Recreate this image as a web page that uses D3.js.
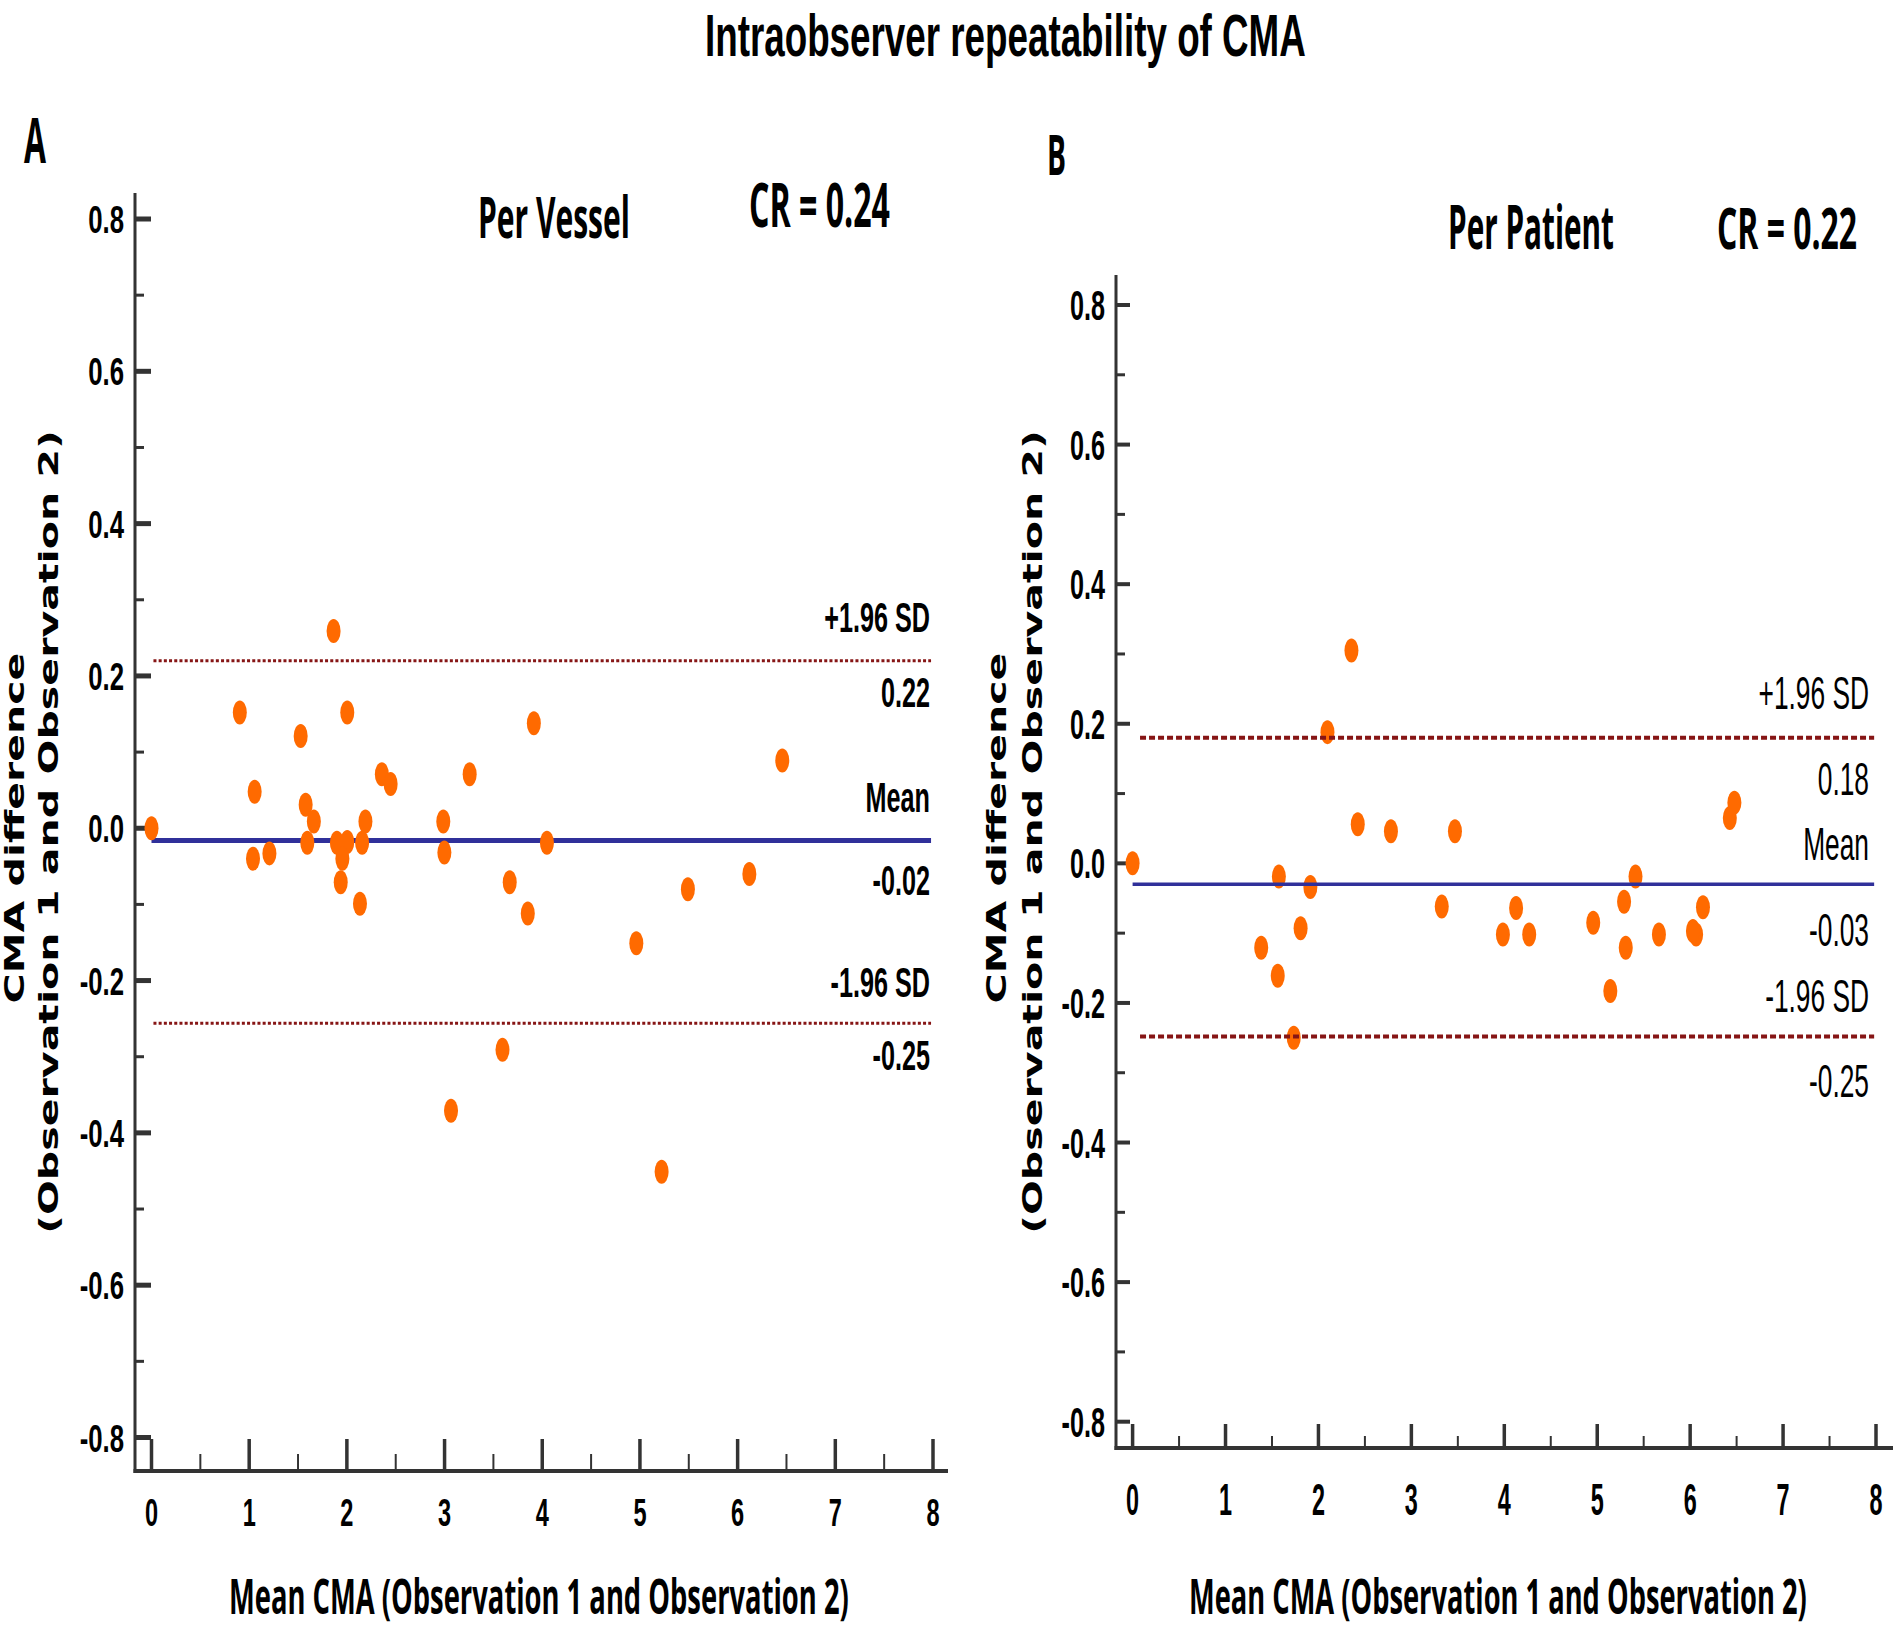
<!DOCTYPE html>
<html><head><meta charset="utf-8">
<script src="https://cdn.jsdelivr.net/npm/d3@7"></script>
<style>html,body{margin:0;padding:0;background:#fff;} svg{display:block}</style>
</head><body>
<svg id="chart" width="1896" height="1629"></svg>
<script>
// ---------- data ----------
const xTicks = [0, 1, 2, 3, 4, 5, 6, 7, 8];
const yTicks = [-0.8, -0.6, -0.4, -0.2, 0.0, 0.2, 0.4, 0.6, 0.8];
const yTickLabels = ["-0.8", "-0.6", "-0.4", "-0.2", "0.0", "0.2", "0.4", "0.6", "0.8"];

// Panel A: per vessel
const vesselMean = [1.864, 0.904, 2.004, 1.527, 3.914, 6.457, 1.056, 2.358, 2.448, 3.257, 1.578, 1.662, 2.19, 2.987, 0.0,
  1.595, 1.898, 2.004, 2.156, 1.954, 1.039, 1.207, 1.937, 2.134, 2.998, 4.048, 3.667, 3.852, 4.963, 5.491, 6.12, 3.593, 3.066, 5.222];
const vesselDiff = [0.259, 0.152, 0.152, 0.121, 0.138, 0.089, 0.048, 0.071, 0.058, 0.071, 0.031, 0.009, 0.009, 0.009, 0.0,
  -0.019, -0.019, -0.018, -0.019, -0.040, -0.040, -0.033, -0.071, -0.099, -0.032, -0.019, -0.071, -0.112, -0.151, -0.080, -0.060, -0.291, -0.371, -0.451];

// Panel B: per patient
const patientMean = [0.0, 2.355, 2.097, 2.423, 2.78, 3.469, 6.427, 6.476, 1.574, 1.913, 1.384, 1.562, 1.808, 1.734, 3.327,
  4.127, 3.985, 4.268, 4.957, 5.412, 5.289, 5.307, 5.141, 5.664, 6.064, 6.03, 6.138];
const patientDiff = [0.0, 0.305, 0.188, 0.056, 0.046, 0.046, 0.065, 0.087, -0.019, -0.034, -0.121, -0.161, -0.093, -0.25, -0.062,
  -0.064, -0.102, -0.102, -0.085, -0.019, -0.055, -0.121, -0.183, -0.102, -0.102, -0.097, -0.063];

// limits of agreement: upper, mean, lower
const vesselLimits = [0.22, -0.016, -0.256];
const patientLimits = [0.18, -0.030, -0.248];
const vesselLimitLabels = ["+1.96 SD", "0.22", "Mean", "-0.02", "-1.96 SD", "-0.25"];
const patientLimitLabels = ["+1.96 SD", "0.18", "Mean", "-0.03", "-1.96 SD", "-0.25"];

const mainTitle = "Intraobserver repeatability of CMA";
const panelTitles = ["Per Vessel", "Per Patient"];
const crLabels = ["CR = 0.24", "CR = 0.22"];
const xTitle = "Mean CMA (Observation 1 and Observation 2)";
const yTitle = ["CMA difference", "(Observation 1 and Observation 2)"];

// ---------- drawing ----------
const svg = d3.select("#chart");
const AXIS = "#333333", DOT = "#ff6a00", BLUE = "#30309a", RED = "#861515";
const NARROW = "'Liberation Sans', Arial, sans-serif";
const TITLEF = "'Open Sans', 'Noto Sans', sans-serif";
const WIDEF = "'DejaVu Sans', Verdana, sans-serif";

function stxt(g, s, x, y, o) {
  return g.append("text")
    .attr("transform", `translate(${x},${y}) scale(${o.sx || 1},1)`)
    .attr("text-anchor", o.anchor || "start")
    .style("font-family", o.family || NARROW)
    .style("font-size", o.size + "px")
    .style("font-weight", o.weight || 700)
    .attr("fill", "#000")
    .text(s);
}
// text fitted to a target width by measuring and scaling horizontally
function ftxt(g, s, x, y, len, o) {
  const t = g.append("text")
    .attr("text-anchor", o.anchor || "start")
    .style("font-family", o.family || TITLEF)
    .style("font-size", o.size + "px")
    .style("font-weight", o.weight || 700)
    .attr("fill", "#000")
    .text(s);
  const nat = t.node().getComputedTextLength() || len;
  const k = len / nat;
  const rot = o.rotate ? ` rotate(${o.rotate})` : "";
  t.attr("transform", `translate(${x},${y})${rot} scale(${k},1)`);
  return t;
}

// main title
ftxt(svg, mainTitle, 705, 56, 601, {size: 60, family: NARROW});

const panels = [
  { letter: "A", idx: 0, letterX: 24, letterY: 163, letterLen: 22, letterSize: 62,
    mx: vesselMean, dy: vesselDiff, lim: vesselLimits, limLab: vesselLimitLabels,
    xr: [151.5, 933], yr: [1437.5, 219], axisX: 135, axisTop: 193, axisY: 1471, axisRight: 948,
    yMajLen: 16, yMajW: 5, yMinLen: 9, yMinW: 3, xMajH: 32, xMinH: 17,
    ytSize: 39, ytSx: 0.66, ytCap: 28, ytRight: 124, ytWeight: 700,
    xtSize: 38, xtSx: 0.62, xtBase: 1526,
    title: {x: 478, y: 238, len: 152, size: 58}, cr: {x: 749, y: 227, len: 141, size: 61},
    xTitle: {x: 229, y: 1614, len: 620, size: 49},
    yTitle: {b1: 24, b2: 58, cy1: 828, cy2: 832, len1: 351, len2: 804, size: 27},
    limStyle: {w: 3, dash: "3,2.2", meanW: 5, x0: 0.02, x1: 7.98},
    labRight: 930, labSize: 42, labSx: 0.6, labWeight: 700,
    labBase: [632, 707, 812, 895, 997, 1070], linesOnTop: false },
  { letter: "B", idx: 1, letterX: 1047, letterY: 175, letterLen: 19, letterSize: 56,
    mx: patientMean, dy: patientDiff, lim: patientLimits, limLab: patientLimitLabels,
    xr: [1132.6, 1876], yr: [1421.7, 305], axisX: 1116, axisTop: 275, axisY: 1448, axisRight: 1893,
    yMajLen: 14, yMajW: 4, yMinLen: 9, yMinW: 3, xMajH: 24, xMinH: 12,
    ytSize: 42, ytSx: 0.6, ytCap: 30, ytRight: 1105, ytWeight: 700,
    xtSize: 45, xtSx: 0.52, xtBase: 1515,
    title: {x: 1448, y: 249, len: 166, size: 61}, cr: {x: 1717, y: 249, len: 140, size: 58},
    xTitle: {x: 1189, y: 1614, len: 618, size: 49},
    yTitle: {b1: 1006, b2: 1042, cy1: 828, cy2: 832, len1: 351, len2: 804, size: 27},
    limStyle: {w: 4, dash: "6,3", meanW: 3.5, x0: 0.08, x1: 7.98},
    labRight: 1869, labSize: 47, labSx: 0.56, labWeight: 400,
    labBase: [709, 795, 860, 946, 1012, 1097], linesOnTop: true }
];

panels.forEach(p => {
  const g = svg.append("g");
  const x = d3.scaleLinear().domain([0, 8]).range(p.xr);
  const y = d3.scaleLinear().domain([-0.8, 0.8]).range(p.yr);

  // panel letter and titles
  ftxt(g, p.letter, p.letterX, p.letterY, p.letterLen, {size: p.letterSize});
  ftxt(g, panelTitles[p.idx], p.title.x, p.title.y, p.title.len, {size: p.title.size});
  ftxt(g, crLabels[p.idx], p.cr.x, p.cr.y, p.cr.len, {size: p.cr.size});
  ftxt(g, xTitle, p.xTitle.x, p.xTitle.y, p.xTitle.len, {size: p.xTitle.size});

  // y axis title (two rotated lines)
  ftxt(g, yTitle[0], p.yTitle.b1, p.yTitle.cy1, p.yTitle.len1,
    {size: p.yTitle.size, family: WIDEF, anchor: "middle", rotate: -90});
  ftxt(g, yTitle[1], p.yTitle.b2, p.yTitle.cy2, p.yTitle.len2,
    {size: p.yTitle.size, family: WIDEF, anchor: "middle", rotate: -90});

  // axis lines
  g.append("line").attr("x1", p.axisX).attr("x2", p.axisX).attr("y1", p.axisTop).attr("y2", p.axisY + 2)
    .attr("stroke", AXIS).attr("stroke-width", 3);
  g.append("line").attr("x1", p.axisX - 1.5).attr("x2", p.axisRight).attr("y1", p.axisY).attr("y2", p.axisY)
    .attr("stroke", AXIS).attr("stroke-width", 4);

  // y ticks (inward)
  yTicks.forEach((v, i) => {
    g.append("line").attr("x1", p.axisX).attr("x2", p.axisX + p.yMajLen)
      .attr("y1", y(v)).attr("y2", y(v)).attr("stroke", AXIS).attr("stroke-width", p.yMajW);
    stxt(g, yTickLabels[i], p.ytRight, y(v) + p.ytCap / 2,
      {size: p.ytSize, sx: p.ytSx, anchor: "end", weight: p.ytWeight});
    if (i < yTicks.length - 1) {
      const m = (v + yTicks[i + 1]) / 2;
      g.append("line").attr("x1", p.axisX).attr("x2", p.axisX + p.yMinLen)
        .attr("y1", y(m)).attr("y2", y(m)).attr("stroke", AXIS).attr("stroke-width", p.yMinW);
    }
  });

  // x ticks (inward)
  xTicks.forEach((v, i) => {
    g.append("line").attr("x1", x(v)).attr("x2", x(v))
      .attr("y1", p.axisY).attr("y2", p.axisY - p.xMajH).attr("stroke", AXIS).attr("stroke-width", 3.5);
    stxt(g, String(v), x(v), p.xtBase, {size: p.xtSize, sx: p.xtSx, anchor: "middle", weight: 700});
    if (i < xTicks.length - 1) {
      const m = (v + xTicks[i + 1]) / 2;
      g.append("line").attr("x1", x(m)).attr("x2", x(m))
        .attr("y1", p.axisY).attr("y2", p.axisY - p.xMinH).attr("stroke", AXIS).attr("stroke-width", 2);
    }
  });

  const lineG = g.append("g"), dotG = g.append("g");
  if (p.linesOnTop) lineG.raise();

  // limits of agreement
  const ls = p.limStyle;
  [p.lim[0], p.lim[2]].forEach(v => {
    lineG.append("line").attr("x1", x(ls.x0)).attr("x2", x(ls.x1)).attr("y1", y(v)).attr("y2", y(v))
      .attr("stroke", RED).attr("stroke-width", ls.w).attr("stroke-dasharray", ls.dash);
  });
  lineG.append("line").attr("x1", x(0)).attr("x2", x(ls.x1)).attr("y1", y(p.lim[1])).attr("y2", y(p.lim[1]))
    .attr("stroke", BLUE).attr("stroke-width", ls.meanW);

  // points
  dotG.selectAll("ellipse").data(p.mx.map((m, i) => [m, p.dy[i]])).join("ellipse")
    .attr("cx", d => x(d[0])).attr("cy", d => y(d[1])).attr("rx", 7).attr("ry", 12)
    .attr("fill", DOT);

  // limit labels
  p.limLab.forEach((s, i) => {
    stxt(g, s, p.labRight, p.labBase[i], {size: p.labSize, sx: p.labSx, anchor: "end", weight: p.labWeight});
  });
});
</script>
</body></html>
